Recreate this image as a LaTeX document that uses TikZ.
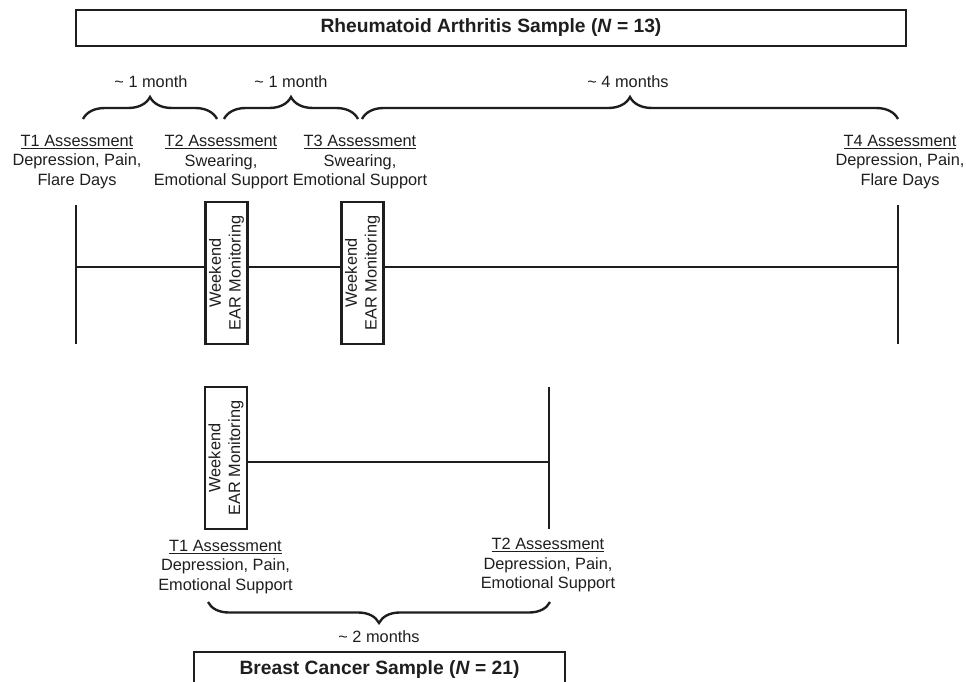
\documentclass[tikz,border=0pt]{standalone}
\usepackage{fontspec}
\setmainfont{Liberation Sans}
\usetikzlibrary{decorations.pathreplacing}
\definecolor{ink}{HTML}{1E1E1E}
\begin{document}
\begin{tikzpicture}[x=0.02cm,y=-0.02cm,
  ln/.style={draw=ink,line width=1.35pt},
  lbl/.style={text=ink,align=center,font=\fontsize{9.3}{11.3}\selectfont,inner sep=0pt},
  titlebox/.style={draw=ink,line width=1.35pt,font=\fontsize{10.95}{13}\selectfont\bfseries,text=ink,inner sep=0pt},
  earbox/.style={draw=ink,line width=1.35pt,fill=white,rotate=90,minimum width=2.84cm,minimum height=0.84cm,inner sep=0pt,align=center,text=ink,font=\fontsize{9.3}{11.3}\selectfont},
  brc/.style={draw=ink,line width=1.35pt,decorate,decoration={brace,amplitude=0.44cm}}
]
\clip (0,0) rectangle (966,682);
% Top sample
\node[titlebox,minimum width=16.6cm,minimum height=0.72cm] (ra) at (491,28) {Rheumatoid Arthritis Sample (\textit{N} = 13)};

\coordinate (a1) at (76,205); \coordinate (a1b) at (76,344);
\coordinate (a4) at (898,205); \coordinate (a4b) at (898,344);
\coordinate (m1) at (76,267); \coordinate (m4) at (898,267);
\node[earbox] (e1) at (226.5,273) {Weekend\\EAR Monitoring};
\node[earbox] (e2) at (362.5,273) {Weekend\\EAR Monitoring};
\draw[ln] (a1) -- (a1b);
\draw[ln] (a4) -- (a4b);
\draw[ln] (m1) -- (e1.north |- m1);
\draw[ln] (e1.south |- m1) -- (e2.north |- m1);
\draw[ln] (e2.south |- m1) -- (m4);

\node[lbl] (t1) at (77,162) {\underline{T1 Assessment}\\Depression, Pain,\\Flare Days};
\node[lbl] (t2) at (221,162) {\underline{T2 Assessment}\\Swearing,\\Emotional Support};
\node[lbl] (t3) at (360,162) {\underline{T3 Assessment}\\Swearing,\\Emotional Support};
\node[lbl] (t4) at (900,162) {\underline{T4 Assessment}\\Depression, Pain,\\Flare Days};

\coordinate (r1a) at (83,119); \coordinate (r1b) at (217,119);
\coordinate (r2a) at (224,119); \coordinate (r2b) at (358,119);
\coordinate (r3a) at (362,119); \coordinate (r3b) at (898,119);
\draw[brc] (r1a) -- (r1b);
\draw[brc] (r2a) -- (r2b);
\draw[brc] (r3a) -- (r3b);
\node[lbl] (d1) at (151,82) {\textasciitilde\ 1 month};
\node[lbl] (d2) at (291,82) {\textasciitilde\ 1 month};
\node[lbl] (d3) at (628,82) {\textasciitilde\ 4 months};

% Bottom sample
\node[earbox] (e3) at (226,458) {Weekend\\EAR Monitoring};
\coordinate (b2) at (549,387); \coordinate (b2b) at (549,529); \coordinate (n2) at (549,462);
\draw[ln] (e3.south |- n2) -- (n2);
\draw[ln] (b2) -- (b2b);

\node[lbl] (bt1) at (225.5,567) {\underline{T1 Assessment}\\Depression, Pain,\\Emotional Support};
\node[lbl] (bt2) at (548,565) {\underline{T2 Assessment}\\Depression, Pain,\\Emotional Support};

\coordinate (s1) at (550,602); \coordinate (s2) at (208,602);
\draw[ln,decorate,decoration={brace,amplitude=0.42cm}] (s1) -- (s2);
\node[lbl] (d4) at (379,637) {\textasciitilde\ 2 months};

\node[titlebox,minimum width=7.42cm,minimum height=0.72cm] (bc) at (379.5,670) {Breast Cancer Sample (\textit{N} = 21)};
\end{tikzpicture}
\end{document}
